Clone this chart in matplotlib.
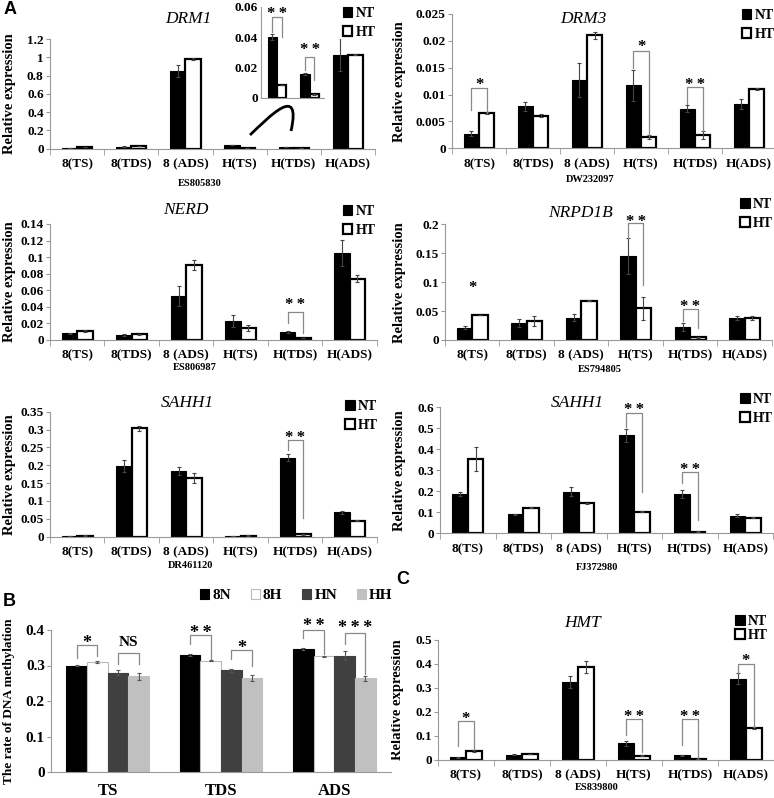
import numpy as np
import matplotlib
matplotlib.use("Agg")
import matplotlib.pyplot as plt
from matplotlib.ticker import FuncFormatter
from matplotlib.path import Path
from matplotlib.patches import PathPatch

plt.rcParams["font.family"] = ["Liberation Serif", "DejaVu Serif"]
plt.rcParams["font.weight"] = "bold"
plt.rcParams["axes.labelweight"] = "bold"

# ---- data ----
cats = ["8(TS)", "8(TDS)", "8 (ADS)", "H(TS)", "H(TDS)", "H(ADS)"]

drm1_nt = [0.006, 0.02, 0.85, 0.04, 0.0156, 1.03]
drm1_nt_err = [0.001, 0.002, 0.065, 0.002, 0.0005, 0.18]
drm1_ht = [0.02, 0.026, 0.98, 0.0084, 0.0022, 1.03]
drm1_ht_err = [0.001, 0.001, 0.01, 0.0003, 0.0003, 0.005]

drm3_nt = [0.0027, 0.0078, 0.0127, 0.0117, 0.0074, 0.0082]
drm3_nt_err = [0.0005, 0.0009, 0.0032, 0.0029, 0.0007, 0.0009]
drm3_ht = [0.0065, 0.0061, 0.021, 0.0021, 0.0025, 0.011]
drm3_ht_err = [0.0002, 0.0002, 0.0006, 0.0003, 0.0007, 0.0002]

nerd_nt = [0.008, 0.0062, 0.053, 0.023, 0.0095, 0.105]
nerd_nt_err = [0.0005, 0.0008, 0.012, 0.0077, 0.0015, 0.016]
nerd_ht = [0.011, 0.0068, 0.0905, 0.0145, 0.0024, 0.074]
nerd_ht_err = [0.0013, 0.0005, 0.006, 0.0036, 0.0003, 0.004]

nrpd_nt = [0.0213, 0.0288, 0.0386, 0.145, 0.022, 0.0386]
nrpd_nt_err = [0.0025, 0.007, 0.006, 0.031, 0.007, 0.0035]
nrpd_ht = [0.043, 0.0328, 0.068, 0.0548, 0.0046, 0.038]
nrpd_ht_err = [0.0005, 0.008, 0.0005, 0.02, 0.0003, 0.0035]

sahh_a_nt = [0.0015, 0.198, 0.184, 0.0015, 0.221, 0.068]
sahh_a_nt_err = [0.0003, 0.017, 0.01, 0.0003, 0.01, 0.005]
sahh_a_ht = [0.003, 0.303, 0.164, 0.003, 0.0065, 0.045]
sahh_a_ht_err = [0.0005, 0.006, 0.013, 0.0005, 0.002, 0.002]

sahh_b_nt = [0.187, 0.09, 0.198, 0.467, 0.187, 0.084]
sahh_b_nt_err = [0.008, 0.004, 0.022, 0.03, 0.019, 0.006]
sahh_b_ht = [0.352, 0.122, 0.143, 0.103, 0.008, 0.075]
sahh_b_ht_err = [0.057, 0.002, 0.002, 0.003, 0.001, 0.002]

hmt_nt = [0.011, 0.022, 0.326, 0.069, 0.019, 0.339]
hmt_nt_err = [0.001, 0.002, 0.024, 0.01, 0.002, 0.022]
hmt_ht = [0.036, 0.025, 0.386, 0.018, 0.005, 0.132]
hmt_ht_err = [0.004, 0.001, 0.025, 0.002, 0.001, 0.004]

meth_groups = ["TS", "TDS", "ADS"]
meth_8n = [0.300, 0.330, 0.347]
meth_8n_err = [0.001, 0.002, 0.002]
meth_8h = [0.310, 0.314, 0.326]
meth_8h_err = [0.003, 0.002, 0.002]
meth_hn = [0.280, 0.286, 0.328]
meth_hn_err = [0.006, 0.005, 0.012]
meth_hh = [0.270, 0.264, 0.264]
meth_hh_err = [0.010, 0.009, 0.007]

W, H = 774, 798
fig = plt.figure(figsize=(W / 100, H / 100), dpi=100)

ERR = dict(ecolor="#444444", elinewidth=0.8, capsize=1.5, capthick=0.8)
GRAY = "#999999"
STAR_GAP = "\u2009"


def px_box(l, t, r, b):
    return [l / W, 1 - b / H, (r - l) / W, (b - t) / H]


def ftext(x, y, s, **kw):
    fig.text(x / W, 1 - y / H, s, ha="center", va="center", **kw)


def fmt(v, _):
    return "%g" % round(v, 4)


def bold_ticks(ax):
    for lbl in ax.get_xticklabels() + ax.get_yticklabels():
        lbl.set_fontweight("bold")


def sig_text(ax, x, y, txt, size):
    # place the glyphs (asterisks sit high in the line box) centred on y
    if "*" in txt:
        txt = STAR_GAP.join(txt)
        shift = 0.55
    else:
        shift = 0.33
    ax.annotate(txt, (x, y), xytext=(0, -shift * size), textcoords="offset points",
                ha="center", va="baseline", fontsize=size, fontweight="bold",
                annotation_clip=False)


def style_axes(ax, l, r, ymax, step, ylab_x, ylab, ylab_size=10.5, tick_size=9.5):
    ax.set_ylim(0, ymax)
    ax.set_yticks(np.round(np.arange(0, ymax + step / 2, step), 4))
    ax.yaxis.set_major_formatter(FuncFormatter(fmt))
    for s in ["top", "right"]:
        ax.spines[s].set_visible(False)
    for s in ["left", "bottom"]:
        ax.spines[s].set_color(GRAY)
        ax.spines[s].set_linewidth(0.8)
    ax.tick_params(axis="y", length=3, pad=1.5, color=GRAY, labelsize=tick_size)
    ax.set_ylabel(ylab, fontsize=ylab_size, fontweight="bold", va="center")
    ax.yaxis.set_label_coords((ylab_x - l) / (r - l), 0.5)
    bold_ticks(ax)


def expr_panel(l, t, r, b, ymax, step, nt, nt_err, ht, ht_err, legend_xy, ylab_x, lspace=0.4):
    ax = fig.add_axes(px_box(l, t, r, b))
    x = np.arange(len(cats))
    w = 0.28
    b1 = ax.bar(x - w / 2, nt, w, yerr=nt_err, color="black", edgecolor="black",
                linewidth=0.8, error_kw=ERR, label="NT")
    b2 = ax.bar(x + w / 2, ht, w, yerr=ht_err, color="white", edgecolor="black",
                linewidth=1.6, error_kw=ERR, label="HT")
    ax.set_xlim(-0.5, len(cats) - 0.5)
    ax.set_xticks(x, cats)
    ax.set_xticks(np.arange(-0.5, len(cats), 1), minor=True)
    ax.tick_params(axis="x", which="major", length=0, pad=7, labelsize=9.5)
    ax.tick_params(axis="x", which="minor", length=4, color=GRAY)
    style_axes(ax, l, r, ymax, step, ylab_x, "Relative expression")
    lx, ly = legend_xy
    ax.legend(handles=[b1, b2], loc="upper left", bbox_to_anchor=(lx / W, 1 - ly / H),
              bbox_transform=fig.transFigure, frameon=False, borderpad=0, borderaxespad=0,
              handlelength=0.7, handleheight=0.7, handletextpad=0.25, labelspacing=lspace,
              prop=dict(weight="bold", size=10))
    return ax


def brackets(ax, specs, dx=0.14, star_size=12):
    for i, yl, yt, yr, txt, ty in specs:
        if yl is not None:
            ax.plot([i - dx, i - dx, i + dx, i + dx], [yl, yt, yt, yr], color="#888888", lw=0.9,
                    clip_on=False)
        sig_text(ax, i, ty, txt, star_size)


# ---- A: DRM1 ----
ax1 = expr_panel(50, 39.3, 375, 148.5, 1.2, 0.2, drm1_nt, drm1_nt_err, drm1_ht, drm1_ht_err,
                 (342.7, 7), 10)
ftext(188, 19, "DRM1", style="italic", fontweight="normal", fontsize=12.5)
ftext(200, 183, "ES805830", fontsize=7.5, fontweight="bold")

# inset with H(TS), H(TDS)
axi = fig.add_axes(px_box(260.7, 6.7, 324.4, 97.7))
axi.set_facecolor("none")
wi = 0.285
xi = np.arange(2)
axi.bar(xi - wi / 2, drm1_nt[3:5], wi, yerr=drm1_nt_err[3:5], color="black", edgecolor="black",
        linewidth=0.8, error_kw=ERR)
axi.bar(xi + wi / 2, drm1_ht[3:5], wi, yerr=drm1_ht_err[3:5], color="white", edgecolor="black",
        linewidth=1.6, error_kw=ERR)
axi.set_xlim(-0.5, 1.45)
axi.set_xticks([])
axi.set_ylim(0, 0.06)
axi.set_yticks([0, 0.02, 0.04, 0.06])
axi.yaxis.set_major_formatter(FuncFormatter(fmt))
for s in ["top", "right"]:
    axi.spines[s].set_visible(False)
for s in ["left", "bottom"]:
    axi.spines[s].set_color(GRAY)
axi.tick_params(axis="y", length=0, pad=2, labelsize=9.5)
bold_ticks(axi)
brackets(axi, [(0, 0.0436, 0.053, 0.0398, "**", 0.0585),
               (1, 0.0183, 0.0267, 0.0117, "**", 0.0348)])

# curved connector from the small bars to the inset
p = [(250, 135), (268, 118), (302, 82), (291, 131)]
curve = Path([(x / W, 1 - y / H) for x, y in p],
             [Path.MOVETO, Path.CURVE4, Path.CURVE4, Path.CURVE4])
fig.add_artist(PathPatch(curve, fill=False, lw=2, color="black", transform=fig.transFigure))

# ---- A: DRM3 ----
ax2 = expr_panel(452, 14, 776, 148.3, 0.025, 0.005, drm3_nt, drm3_nt_err, drm3_ht, drm3_ht_err,
                 (741.7, 9), 400)
ftext(583, 19, "DRM3", style="italic", fontweight="normal", fontsize=12.5)
ftext(590, 180, "DW232097", fontsize=7.5, fontweight="bold")
brackets(ax2, [(0, 0.0071, 0.0113, 0.0065, "*", 0.0128),
               (3, 0.0149, 0.0181, 0.0022, "*", 0.0199),
               (4, 0.0082, 0.0114, 0.0033, "**", 0.0127)])

# ---- A: NERD ----
ax3 = expr_panel(50, 224, 377, 340, 0.14, 0.02, nerd_nt, nerd_nt_err, nerd_ht, nerd_ht_err,
                 (342.7, 205), 10)
ftext(186, 210, "NERD", style="italic", fontweight="normal", fontsize=12.5)
ftext(195, 368, "ES806987", fontsize=7.5, fontweight="bold")
brackets(ax3, [(4, 0.020, 0.034, 0.008, "**", 0.048)])

# ---- A: NRPD1B ----
ax4 = expr_panel(445, 224.3, 772, 340, 0.2, 0.05, nrpd_nt, nrpd_nt_err, nrpd_ht, nrpd_ht_err,
                 (740, 198), 400)
ftext(581, 213, "NRPD1B", style="italic", fontweight="normal", fontsize=12.5)
ftext(600, 370, "ES794805", fontsize=7.5, fontweight="bold")
brackets(ax4, [(0, None, None, None, "*", 0.098),
               (3, 0.177, 0.203, 0.095, "**", 0.213),
               (4, 0.033, 0.0536, 0.020, "**", 0.066)])

# ---- A: SAHH1 (DR461120) ----
ax5 = expr_panel(50, 411.7, 377, 536.7, 0.35, 0.05, sahh_a_nt, sahh_a_nt_err, sahh_a_ht,
                 sahh_a_ht_err, (345, 400), 10)
ftext(187, 403, "SAHH1", style="italic", fontweight="normal", fontsize=12.5)
ftext(191, 565, "DR461120", fontsize=7.5, fontweight="bold")
brackets(ax5, [(4, 0.243, 0.271, 0.051, "**", 0.29)])

# ---- A: SAHH1 (FJ372980) ----
ax6 = expr_panel(440, 407.3, 773, 533.3, 0.6, 0.1, sahh_b_nt, sahh_b_nt_err, sahh_b_ht,
                 sahh_b_ht_err, (740, 393), 400)
ftext(577, 403, "SAHH1", style="italic", fontweight="normal", fontsize=12.5)
ftext(597, 567, "FJ372980", fontsize=7.5, fontweight="bold")
brackets(ax6, [(3, 0.508, 0.571, 0.198, "**", 0.61),
               (4, 0.238, 0.29, 0.063, "**", 0.325)])

# ---- C: HMT ----
ax7 = expr_panel(438, 640, 774, 760, 0.5, 0.1, hmt_nt, hmt_nt_err, hmt_ht, hmt_ht_err,
                 (735, 615), 398, lspace=0.05)
ftext(582, 623, "HMT", style="italic", fontweight="normal", fontsize=12.5)
ftext(597, 788, "ES839800", fontsize=7.5, fontweight="bold")
brackets(ax7, [(0, 0.06, 0.162, 0.045, "*", 0.194),
               (3, 0.104, 0.171, 0.035, "**", 0.2),
               (4, 0.062, 0.171, 0.007, "**", 0.2),
               (5, 0.361, 0.4, 0.139, "*", 0.435)])

# ---- B: methylation rate ----
axb = fig.add_axes(px_box(51, 630, 391, 772))
xb = np.arange(len(meth_groups))
wb = 0.182
series = [(meth_8n, meth_8n_err, "black", "black", "8N"),
          (meth_8h, meth_8h_err, "white", "#bbbbbb", "8H"),
          (meth_hn, meth_hn_err, "#404040", "#404040", "HN"),
          (meth_hh, meth_hh_err, "#c0c0c0", "#c0c0c0", "HH")]
handles = []
for k, (vals, errs, fc, ec, lab) in enumerate(series):
    h = axb.bar(xb + (k - 1.5) * wb, vals, wb, yerr=errs, color=fc, edgecolor=ec, linewidth=0.8,
                error_kw=dict(ecolor="#555555", elinewidth=0.8, capsize=1.5, capthick=0.8),
                label=lab)
    handles.append(h)
axb.set_xlim(-0.5, 2.5)
axb.set_xticks(xb, meth_groups)
axb.tick_params(axis="x", length=0, pad=8, labelsize=12)
style_axes(axb, 51, 391, 0.4, 0.1, 9.3, "The rate of DNA methylation", ylab_size=9.5,
           tick_size=11)
axb.legend(handles=handles, loc="upper left", bbox_to_anchor=(200 / W, 1 - 589 / H),
           bbox_transform=fig.transFigure, frameon=False, ncol=4, borderpad=0, borderaxespad=0,
           handlelength=0.6, handleheight=0.6, handletextpad=0.2, columnspacing=1.3,
           prop=dict(weight="bold", size=11))
for i, a, b_, yl, yt, yr, txt, ty in [(0, 0, 1, 0.32, 0.357, 0.328, "*", 0.376),
                                      (0, 2, 3, 0.303, 0.336, 0.303, "NS", 0.37),
                                      (1, 0, 1, 0.36, 0.385, 0.318, "**", 0.406),
                                      (1, 2, 3, 0.317, 0.345, 0.298, "*", 0.364),
                                      (2, 0, 1, 0.378, 0.40, 0.333, "**", 0.424),
                                      (2, 2, 3, 0.36, 0.392, 0.275, "***", 0.42)]:
    x0 = i + (a - 1.5) * wb
    x1 = i + (b_ - 1.5) * wb
    axb.plot([x0, x0, x1, x1], [yl, yt, yt, yr], color="#888888", lw=0.9, clip_on=False)
    sig_text(axb, (x0 + x1) / 2, ty, txt, 11 if txt == "NS" else 13)

# panel letters
for s, x, y in [("A", 10, 10), ("B", 9.3, 602), ("C", 403, 579)]:
    fig.text(x / W, 1 - y / H, s, ha="center", va="center", fontsize=13, fontweight="bold",
             family=["Liberation Sans", "DejaVu Sans"])

fig.savefig("out.png", dpi=100)
